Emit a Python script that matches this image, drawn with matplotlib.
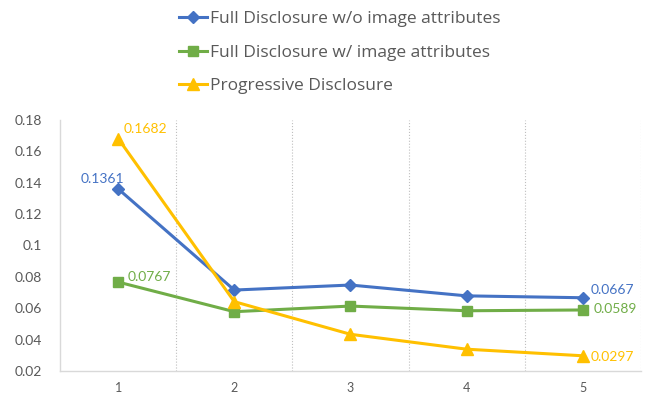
import matplotlib
matplotlib.use("Agg")
import matplotlib.pyplot as plt
from matplotlib.ticker import FuncFormatter

plt.rcParams["font.family"] = ["Lato", "DejaVu Sans"]

x = [1, 2, 3, 4, 5]
full_wo = [0.1361, 0.0716, 0.0748, 0.0679, 0.0667]
full_w = [0.0767, 0.0578, 0.0614, 0.0584, 0.0589]
progressive = [0.1682, 0.0642, 0.0434, 0.0339, 0.0297]

labels = [
    "Full Disclosure w/o image attributes",
    "Full Disclosure w/ image attributes",
    "Progressive Disclosure",
]
colors = ["#4472C4", "#70AD47", "#FFC000"]
markers = ["D", "s", "^"]
sizes = [6, 7.5, 8]

fig = plt.figure(figsize=(6.46, 4.0), dpi=100)
ax = fig.add_axes([0.093, 0.0725, 0.899, 0.6275])

series = [full_wo, full_w, progressive]
handles = []
for vals, lab, c, m, s in zip(series, labels, colors, markers, sizes):
    h, = ax.plot(x, vals, color=c, marker=m, markersize=s, linewidth=2.2,
                 label=lab, zorder=3)
    handles.append(h)

# data labels on first and last points (offsets in points)
label_offsets = [
    [(-27, 7), (6, 5.3)],
    [(6.5, 3.4), (7.7, 0.5)],
    [(3.6, 6.5), (6, -1)],
]
for vals, c, offs in zip(series, colors, label_offsets):
    for i, off in zip([0, -1], offs):
        ax.annotate(f"{vals[i]:.4f}", (x[i], vals[i]), xytext=off,
                    textcoords="offset points", color=c, fontsize=10,
                    ha="left", va="center")

ax.set_xlim(0.5, 5.5)
ax.set_ylim(0.02, 0.18)
ax.set_yticks([0.02, 0.04, 0.06, 0.08, 0.10, 0.12, 0.14, 0.16, 0.18])
ax.yaxis.set_major_formatter(FuncFormatter(lambda v, p: f"{v:g}"))
ax.set_xticks(x)
ax.set_xticklabels([str(v) for v in x])
ax.tick_params(axis="both", length=0, colors="#595959", labelsize=10)
ax.tick_params(axis="x", labelsize=9)
ax.tick_params(axis="y", pad=13)
ax.tick_params(axis="x", pad=8)

for b in [1.5, 2.5, 3.5, 4.5, 5.5]:
    ax.axvline(b, color="#BFBFBF", linestyle=":", linewidth=0.8, zorder=1)

for side in ["top", "right"]:
    ax.spines[side].set_visible(False)
for side in ["left", "bottom"]:
    ax.spines[side].set_color("#D9D9D9")
    ax.spines[side].set_linewidth(1.0)

fig.legend(handles=handles, loc="upper left", bbox_to_anchor=(0.253, 1.0115),
           frameon=False, prop={"family": ["Open Sans", "DejaVu Sans"], "size": 12.5},
           labelcolor="#595959", handlelength=1.6, handletextpad=0.2,
           labelspacing=1.0)

fig.savefig("out.png", dpi=100)
